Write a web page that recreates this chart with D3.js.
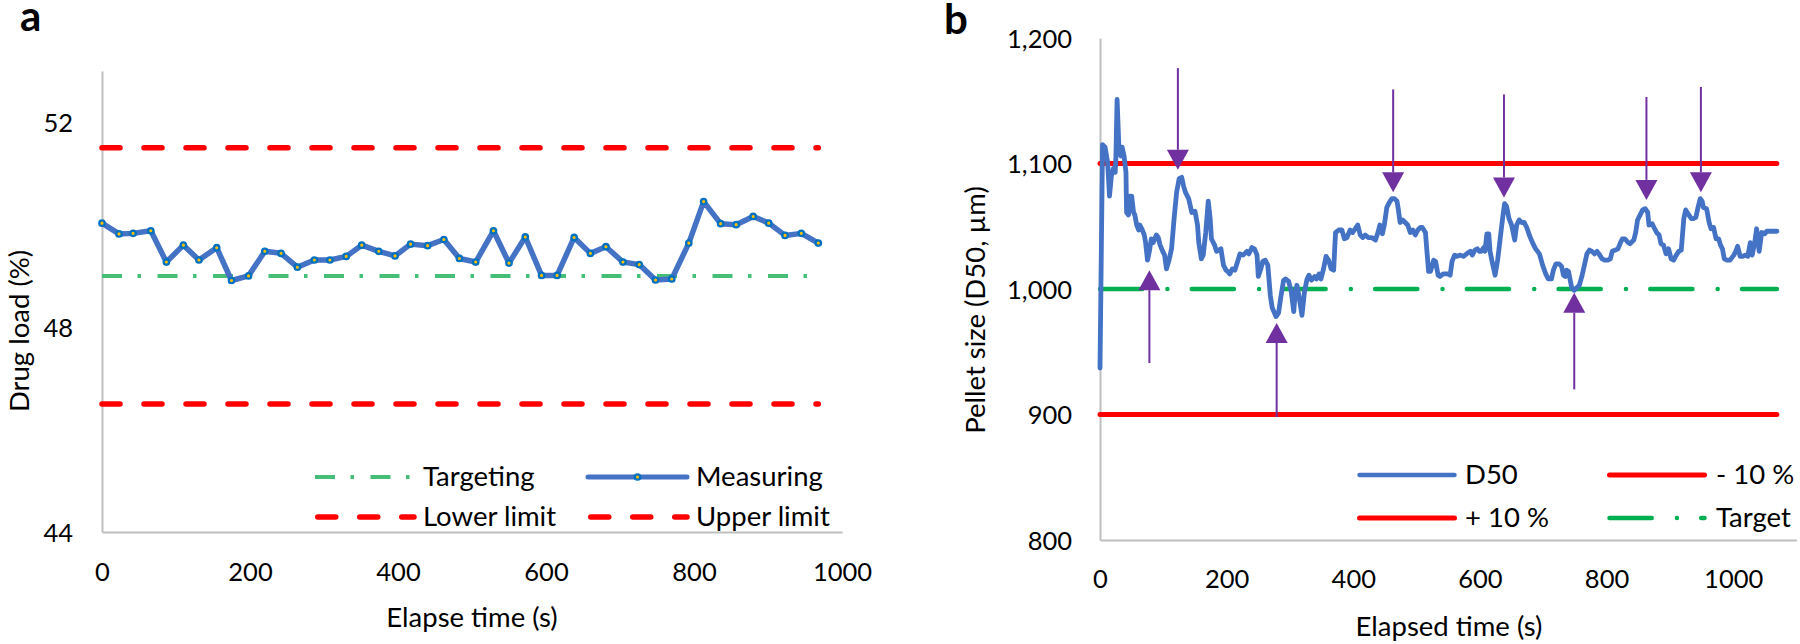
<!DOCTYPE html>
<html><head><meta charset="utf-8">
<script src="https://cdn.jsdelivr.net/npm/d3@7"></script>
<style>html,body{margin:0;padding:0;background:#fff;} svg{display:block;} text{font-family:Lato, "Open Sans", sans-serif;}</style>
</head><body><svg id="chart" width="1800" height="644"></svg>
<script>
// ---------- Panel a data ----------
const timeA = [0,23,42,66,87,110,131,155,175,198,220,242,264,287,308,330,351,374,396,417,440,462,483,505,529,550,572,594,615,638,660,681,704,726,748,770,793,813,836,857,880,901,923,945,968];
const drugLoad = [50.03,49.82,49.83,49.88,49.27,49.60,49.31,49.55,48.91,49.00,49.48,49.44,49.17,49.31,49.31,49.38,49.60,49.48,49.39,49.62,49.59,49.71,49.34,49.27,49.88,49.25,49.76,49.01,49.01,49.75,49.44,49.57,49.27,49.22,48.92,48.94,49.64,50.45,50.02,50.00,50.16,50.03,49.79,49.83,49.64];
const targetA = 49, lowerA = 46.5, upperA = 51.5;
const ticksXA = [0,200,400,600,800,1000];
const ticksYA = [44,48,52];
const legendA = ["Targeting","Measuring","Lower limit","Upper limit"];

// ---------- Panel b data ----------
const timeB = [0,4,8,12,15,18,21,24,25,27,30,33,35,38,41,42,45,47,50,53,55,58,61,63,66,70,72,75,78,81,84,89,92,95,99,102,105,109,113,117,121,125,129,132,135,140,145,150,154,156,160,163,167,171,174,176,181,184,188,191,195,199,202,205,209,213,218,221,226,232,235,240,244,248,250,254,257,261,265,269,272,278,282,286,290,293,298,302,306,308,311,314,319,323,327,330,334,339,342,346,349,353,357,361,365,369,372,377,382,386,390,395,399,403,407,411,415,419,424,429,435,439,442,446,449,453,457,461,465,469,471,474,478,482,486,490,494,498,502,506,509,514,516,519,522,527,530,534,537,542,549,553,556,560,563,569,574,579,585,588,592,596,599,602,606,608,611,614,616,620,624,628,632,636,639,642,646,650,655,658,662,666,670,674,678,683,688,694,699,704,708,713,716,720,725,729,732,735,737,740,743,745,749,753,757,761,765,769,773,777,781,785,788,793,797,802,806,809,814,818,822,825,829,834,837,843,846,849,853,857,861,865,867,872,876,879,883,886,890,894,898,902,906,909,914,918,922,925,930,934,937,941,944,948,951,953,958,962,965,969,973,977,980,983,986,990,995,1001,1004,1007,1011,1015,1019,1023,1027,1030,1034,1037,1041,1045,1050,1053,1058,1064,1069];
const d50 = [937,1115,1113,1101,1074,1090,1096,1093,1103,1151,1111,1106,1113,1106,1093,1061,1059,1074,1074,1061,1059,1051,1047,1051,1048,1043,1037,1023,1030,1040,1037,1043,1041,1035,1030,1027,1016,1023,1032,1056,1077,1088,1089,1082,1077,1072,1061,1062,1051,1037,1024,1027,1045,1070,1056,1040,1035,1030,1031,1032,1019,1015,1014,1012,1016,1015,1023,1028,1027,1030,1028,1033,1032,1027,1010,1016,1022,1023,1019,995,985,978,981,995,1007,1008,1006,998,982,995,1003,995,979,998,1008,1011,1007,1010,1008,1012,1008,1016,1026,1023,1016,1015,1045,1047,1047,1040,1041,1047,1045,1048,1051,1043,1041,1043,1041,1041,1039,1045,1051,1044,1051,1065,1069,1072,1072,1070,1064,1053,1055,1053,1051,1045,1047,1043,1047,1049,1049,1045,1032,1014,1014,1023,1022,1011,1010,1012,1012,1011,1022,1027,1026,1027,1026,1028,1030,1027,1031,1032,1030,1030,1033,1030,1044,1044,1030,1020,1011,1023,1040,1057,1068,1066,1056,1051,1039,1051,1055,1053,1053,1049,1043,1037,1032,1028,1019,1012,1008,1008,1015,1020,1020,1018,1011,1010,1015,1014,1006,1001,999,1001,1003,1010,1019,1028,1031,1030,1028,1030,1028,1024,1023,1023,1024,1030,1031,1032,1037,1040,1040,1037,1036,1039,1045,1055,1059,1063,1064,1061,1051,1052,1048,1045,1043,1036,1035,1028,1032,1024,1023,1026,1030,1031,1056,1063,1059,1056,1056,1057,1064,1072,1070,1065,1064,1053,1048,1049,1040,1040,1035,1032,1024,1023,1023,1027,1030,1034,1026,1026,1027,1026,1037,1027,1037,1048,1030,1045,1044,1046,1046,1046,1046];
const targetB = 1000, lowerB = 900, upperB = 1100;
const ticksXB = [0,200,400,600,800,1000];
const ticksYB = [800,900,1000,1100,1200];
const arrowT = [78,123,279,463,638,749,863,949];
const arrowFrom = [941,1176,898,1159,1155,920,1153,1161];
const arrowTo = [1015,1095,973,1077,1073,997,1071,1077];
const legendB = ["D50","- 10 %","+ 10 %","Target"];

// ---------- styles ----------
const FS_TICK = 25.5, FS_TEXT = 27.5;
const AXIS_COL = "#BFBFBF";
const BLUE = "#4472C4", RED = "#FF0000", GREEN_A = "#45BF78", GREEN_B = "#00B050", PURPLE = "#7030A0";

const svg = d3.select("#chart");
svg.append("rect").attr("width",1800).attr("height",644).attr("fill","#fff");

function styleAxis(g){
  g.select(".domain").attr("stroke",AXIS_COL).attr("stroke-width",2);
  g.selectAll(".tick line").remove();
  g.selectAll("text").attr("font-size",FS_TICK).attr("fill","#000").attr("font-family","Lato");
}

// ================= Panel a =================
const xA = d3.scaleLinear().domain([0,1000]).range([102,842]);
const yA = d3.scaleLinear().domain([44,53]).range([532,71]);
const gA = svg.append("g");

gA.append("g").attr("transform",`translate(0,${yA(44)})`)
  .call(d3.axisBottom(xA).tickValues(ticksXA).tickSize(0).tickSizeOuter(0).tickFormat(d3.format("d")))
  .call(styleAxis)
  .call(g=>g.selectAll("text").attr("y",40).attr("dy","0.36em"));
gA.append("g").attr("transform",`translate(${xA(0)},0)`)
  .call(d3.axisLeft(yA).tickValues(ticksYA).tickSize(0).tickSizeOuter(0).tickPadding(29))
  .call(styleAxis)
  .call(g=>g.selectAll("text").attr("dy","0.36em"));

const tEndA = timeA[timeA.length-1];
const hline = (g, x, y, v, t0, t1) => g.append("line").attr("x1",x(t0)).attr("x2",x(t1)).attr("y1",y(v)).attr("y2",y(v));

hline(gA,xA,yA,upperA,0,tEndA).attr("stroke",RED).attr("stroke-width",5.5).attr("stroke-linecap","round").attr("stroke-dasharray","18,24");
hline(gA,xA,yA,lowerA,0,tEndA).attr("stroke",RED).attr("stroke-width",5.5).attr("stroke-linecap","round").attr("stroke-dasharray","18,24");
hline(gA,xA,yA,targetA,0,tEndA).attr("stroke",GREEN_A).attr("stroke-width",4).attr("stroke-dasharray","20,15.5,3.5,16.5");

const dataA = timeA.map((t,i)=>({t, v:drugLoad[i]}));
gA.append("path").datum(dataA)
  .attr("d", d3.line().x(d=>xA(d.t)).y(d=>yA(d.v)))
  .attr("fill","none").attr("stroke",BLUE).attr("stroke-width",5.5).attr("stroke-linejoin","round");
gA.selectAll("circle.m").data(dataA).join("circle").attr("class","m")
  .attr("cx",d=>xA(d.t)).attr("cy",d=>yA(d.v)).attr("r",2.7)
  .attr("fill","#FFC000").attr("stroke","#0070C0").attr("stroke-width",2.3);

// legend a
const legA = gA.append("g");
const legAPos = [[315,477],[588,477],[315,517],[588,517]];
legendA.forEach((name,i)=>{
  const [lx,ly] = legAPos[i];
  const ln = legA.append("line").attr("x1",lx).attr("x2",lx+99).attr("y1",ly).attr("y2",ly);
  if(i===0) ln.attr("stroke",GREEN_A).attr("stroke-width",4).attr("stroke-dasharray","20,15.5,3.5,16.5");
  if(i===1){ ln.attr("stroke",BLUE).attr("stroke-width",5).attr("stroke-linecap","round");
    legA.append("circle").attr("cx",lx+49.5).attr("cy",ly).attr("r",2.7).attr("fill","#FFC000").attr("stroke","#0070C0").attr("stroke-width",2.3); }
  if(i>=2) ln.attr("x1",lx+2.75).attr("stroke",RED).attr("stroke-width",5.5).attr("stroke-linecap","round").attr("stroke-dasharray","18,24");
  legA.append("text").attr("x",lx+108).attr("y",ly+9).attr("font-size",FS_TEXT).attr("fill","#000").text(name);
});

gA.append("text").attr("x",xA(500)).attr("y",627).attr("text-anchor","middle").attr("font-size",FS_TEXT).attr("fill","#000").text("Elapse time (s)");
gA.append("text").attr("transform","translate(29,331) rotate(-90)").attr("text-anchor","middle").attr("font-size",FS_TEXT).attr("fill","#000").text("Drug load (%)");
svg.append("text").attr("x",20).attr("y",31).attr("font-family","Liberation Sans, Arial, sans-serif").attr("font-weight","bold").attr("font-size",42).attr("fill","#000").text("a");

// ================= Panel b =================
const xB = d3.scaleLinear().domain([0,1100]).range([1100,1796.5]);
const yB = d3.scaleLinear().domain([800,1200]).range([540,38]);
const gB = svg.append("g");

gB.append("g").attr("transform",`translate(0,${yB(800)})`)
  .call(d3.axisBottom(xB).tickValues(ticksXB).tickSize(0).tickSizeOuter(0).tickFormat(d3.format("d")))
  .call(styleAxis)
  .call(g=>g.selectAll("text").attr("y",39).attr("dy","0.36em"));
gB.append("g").attr("transform",`translate(${xB(0)},0)`)
  .call(d3.axisLeft(yB).tickValues(ticksYB).tickSize(0).tickSizeOuter(0).tickPadding(28).tickFormat(d3.format(",")))
  .call(styleAxis)
  .call(g=>g.selectAll("text").attr("dy","0.36em"));

const tEndB = timeB[timeB.length-1];
hline(gB,xB,yB,upperB,0,tEndB).attr("stroke",RED).attr("stroke-width",5).attr("stroke-linecap","round");
hline(gB,xB,yB,lowerB,0,tEndB).attr("stroke",RED).attr("stroke-width",5).attr("stroke-linecap","round");
hline(gB,xB,yB,targetB,0,tEndB).attr("stroke",GREEN_B).attr("stroke-width",4.5).attr("stroke-linecap","round").attr("stroke-dasharray","42.2,25.2,0.01,24.3");

const dataB = timeB.map((t,i)=>({t, v:d50[i]}));
gB.append("path").datum(dataB)
  .attr("d", d3.line().x(d=>xB(d.t)).y(d=>yB(d.v)))
  .attr("fill","none").attr("stroke",BLUE).attr("stroke-width",4.8).attr("stroke-linejoin","round").attr("stroke-linecap","round");

// arrows
arrowT.forEach((t,i)=>{
  const x = xB(t), yTail = yB(arrowFrom[i]), yTip = yB(arrowTo[i]);
  const dir = yTail > yTip ? 1 : -1; // base is on tail side
  const yBase = yTip + dir*20;
  gB.append("line").attr("x1",x).attr("x2",x).attr("y1",yTail).attr("y2",yBase)
    .attr("stroke",PURPLE).attr("stroke-width",2);
  gB.append("path").attr("d",`M${x},${yTip}L${x-11},${yBase}L${x+11},${yBase}Z`).attr("fill",PURPLE);
});

// legend b
const legB = gB.append("g");
const legBPos = [[1357,475],[1607,475],[1357,518],[1607,518]];
legendB.forEach((name,i)=>{
  const [lx,ly] = legBPos[i];
  const ln = legB.append("line").attr("x1",lx+2.5).attr("x2",lx+97.5).attr("y1",ly).attr("y2",ly).attr("stroke-linecap","round");
  if(i===0) ln.attr("stroke",BLUE).attr("stroke-width",4.5);
  if(i===1||i===2) ln.attr("stroke",RED).attr("stroke-width",5);
  if(i===3) ln.attr("stroke",GREEN_B).attr("stroke-width",4.5).attr("stroke-dasharray","42.2,25.2,0.01,24.3");
  legB.append("text").attr("x",lx+(i%2===0?108:109)).attr("y",ly+9).attr("font-size",FS_TEXT).attr("fill","#000").text(name);
});

gB.append("text").attr("x",1449).attr("y",636).attr("text-anchor","middle").attr("font-size",FS_TEXT).attr("fill","#000").text("Elapsed time (s)");
gB.append("text").attr("transform","translate(985,310) rotate(-90)").attr("text-anchor","middle").attr("font-size",FS_TEXT).attr("fill","#000").text("Pellet size (D50, µm)");
svg.append("text").attr("x",944).attr("y",34).attr("font-family","Liberation Sans, Arial, sans-serif").attr("font-weight","bold").attr("font-size",42).attr("fill","#000").text("b");
</script></body></html>
